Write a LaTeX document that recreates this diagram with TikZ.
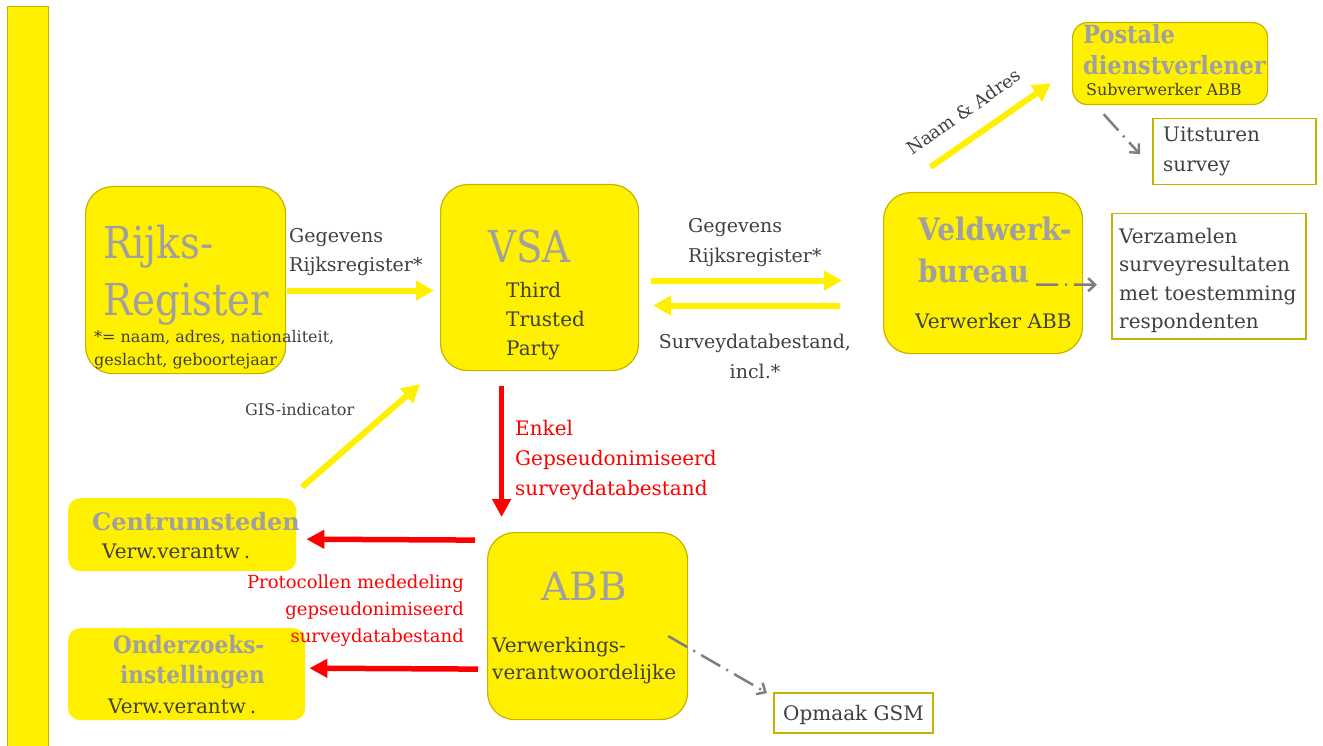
\documentclass[tikz,border=0pt]{standalone}
\usepackage{fontspec}
\setmainfont{DejaVu Serif}
\newfontfamily\bigtitle{DejaVu Serif}[FakeStretch=0.88]
\newfontfamily\semititle{DejaVu Serif}[FakeStretch=0.9]
\usetikzlibrary{arrows.meta,calc}
\definecolor{yellowF}{HTML}{FFF000}
\definecolor{borderO}{HTML}{C4B400}
\definecolor{grayT}{HTML}{A0A0A0}
\definecolor{darkT}{HTML}{404040}
\definecolor{redA}{HTML}{FF0000}
\definecolor{dashG}{HTML}{7F7F7F}
\begin{document}
\begin{tikzpicture}[x=1pt,y=-1pt,
  ybox/.style={draw=borderO, line width=1.2pt, fill=yellowF, rounded corners=27pt, anchor=north west, inner sep=0pt},
  sbox/.style={fill=yellowF, rounded corners=12pt, anchor=north west, inner sep=0pt},
  wbox/.style={draw=borderO, line width=1.5pt, fill=white, anchor=north west, inner sep=0pt},
  ttl/.style={text=grayT, inner sep=0pt, anchor=base west, align=left},
  txt/.style={text=darkT, inner sep=0pt, anchor=base west, align=left},
  rtxt/.style={text=redA, inner sep=0pt, anchor=base west, align=left},
  yarrow/.style={draw=yellowF, line width=6pt, -{Triangle[length=18pt,width=19pt]}},
  rarrow/.style={draw=redA, line width=5.5pt, -{Triangle[length=18pt,width=18pt]}},
  darrow/.style={draw=dashG, line width=2.5pt, dash pattern=on 22pt off 7pt on 2pt off 7pt, -{Straight Barb[length=7pt,width=13pt]}}
]
\useasboundingbox (0,0) rectangle (1323,746);
% left bar
\node[draw=borderO, line width=0.8pt, fill=yellowF, anchor=north west, minimum width=41pt, minimum height=760pt, inner sep=0pt] (bar) at (7,6) {};
% boxes
\node[ybox, minimum width=200pt, minimum height=187pt] (rr) at (85,186) {};
\node[ybox, minimum width=198pt, minimum height=186pt] (vsa) at (440,184) {};
\node[ybox, minimum width=199pt, minimum height=161pt] (vw) at (883,192) {};
\node[ybox, minimum width=200pt, minimum height=187pt] (abb) at (487,532) {};
\node[ybox, rounded corners=15pt, minimum width=195pt, minimum height=82pt] (post) at (1072,22) {};
\node[sbox, minimum width=228pt, minimum height=73pt] (cs) at (68,498) {};
\node[sbox, minimum width=237pt, minimum height=92pt] (oz) at (68,628) {};
\node[wbox, minimum width=194pt, minimum height=125pt] (verz) at (1111,213) {};
\node[wbox, minimum width=163pt, minimum height=66pt] (uits) at (1152,118) {};
\node[wbox, minimum width=159pt, minimum height=40pt] (gsm) at (773,692) {};
% texts in boxes (base = baseline of last line)
\node[ttl, font=\bigtitle\fontsize{44}{57}\selectfont] (rrt) at (103,315) {Rijks-\\Register};
\node[txt, font=\fontsize{16}{23}\selectfont] (rrn) at (94,365) {*= naam, adres, nationaliteit,\\geslacht, geboortejaar};
\node[ttl, font=\bigtitle\fontsize{44}{50}\selectfont] (vsat) at (488,262) {VSA};
\node[txt, font=\fontsize{20}{29}\selectfont] (vsan) at (506,355) {Third\\Trusted\\Party};
\node[ttl, font=\semititle\bfseries\fontsize{31}{43}\selectfont] (vwt) at (918,283) {Veldwerk-\\bureau};
\node[txt, font=\fontsize{20}{26}\selectfont] (vwn) at (915,328) {Verwerker ABB};
\node[ttl, font=\semititle\bfseries\fontsize{25}{31}\selectfont] (postt) at (1083,75) {Postale\\dienstverlener};
\node[txt, font=\fontsize{16}{20}\selectfont] (postn) at (1086,96) {Subverwerker ABB};
\node[ttl, font=\fontsize{39}{45}\selectfont] (abbt) at (541,600) {ABB};
\node[txt, font=\fontsize{20}{27}\selectfont] (abbn) at (492,679) {Verwerkings-\\verantwoordelijke};
\node[ttl, font=\bfseries\fontsize{24}{30}\selectfont] (cst) at (92,530) {Centrumsteden};
\node[txt, font=\fontsize{20}{24}\selectfont] (csn) at (102,558) {Verw.verantw\hspace{4pt}.};
\node[ttl, font=\semititle\bfseries\fontsize{24}{30}\selectfont] (ozt) at (113,653) {Onderzoeks-};
\node[ttl, font=\semititle\bfseries\fontsize{24}{30}\selectfont] (ozt2) at (120,683) {instellingen};
\node[txt, font=\fontsize{20}{24}\selectfont] (ozn) at (108,713) {Verw.verantw\hspace{4pt}.};
\node[txt, font=\fontsize{20}{28.5}\selectfont] (verzt) at (1119,328.5) {Verzamelen\\surveyresultaten\\met toestemming\\respondenten};
\node[txt, font=\fontsize{20}{30}\selectfont] (uitst) at (1163,172) {Uitsturen\\survey};
\node[txt, font=\fontsize{20}{26}\selectfont] (gsmt) at (783,720) {Opmaak GSM};
% connectors
\draw[yarrow] ($(rr.east)+(1,10.5)$) -- ($(vsa.west)+(-6,13)$);
\draw[yarrow] ($(vsa.east)+(12,3)$) -- ($(vw.west)+(-41,7.5)$);
\draw[yarrow] ($(vw.west)+(-43,32.5)$) -- ($(vsa.east)+(14,28)$);
\draw[rarrow] ($(vsa.south)+(-38,15)$) -- ($(abb.north)+(-86,-15)$);
\draw[rarrow] ($(abb.west)+(-12,-86)$) -- ($(cs.east)+(10,4.5)$);
\draw[rarrow] ($(abb.west)+(-9,43)$) -- ($(oz.east)+(4,-6)$);
\draw[yarrow] ($(cs.north)+(120,-11)$) -- ($(vsa.south west)+(-20,13)$);
\draw[yarrow] ($(vw.north)+(-52.5,-25)$) -- ($(post.south west)+(-21,-22)$);
\draw[darrow] ($(post.south)+(-66.5,9)$) -- ($(uits.west)+(-12,2.5)$);
\draw[darrow] ($(vw.east)+(-47,11.5)$) -- ($(verz.west)+(-14,8.5)$);
\draw[darrow] ($(abb.east)+(-20,10)$) -- ($(gsm.north west)+(-6,1)$);
% connector labels
\node[txt, font=\fontsize{19}{29}\selectfont] (l1) at (289,272) {Gegevens\\Rijksregister*};
\node[txt, font=\fontsize{19}{30}\selectfont] (l2) at (688,262) {Gegevens\\Rijksregister*};
\node[txt, font=\fontsize{19}{30}\selectfont, align=center, anchor=base] (l3) at (755,378) {Surveydatabestand,\\incl.*};
\node[rtxt, font=\fontsize{20}{30}\selectfont] (l4) at (515,495) {Enkel\\Gepseudonimiseerd\\surveydatabestand};
\node[rtxt, font=\fontsize{18}{27}\selectfont, align=right, anchor=base east] (l5) at (464,642) {Protocollen mededeling\\gepseudonimiseerd\\surveydatabestand};
\node[txt, font=\fontsize{16}{20}\selectfont] (l6) at (245,415) {GIS-indicator};
\node[txt, font=\fontsize{18}{20}\selectfont, rotate=35] (l7) at (912,156) {Naam \& Adres};
\end{tikzpicture}
\end{document}
